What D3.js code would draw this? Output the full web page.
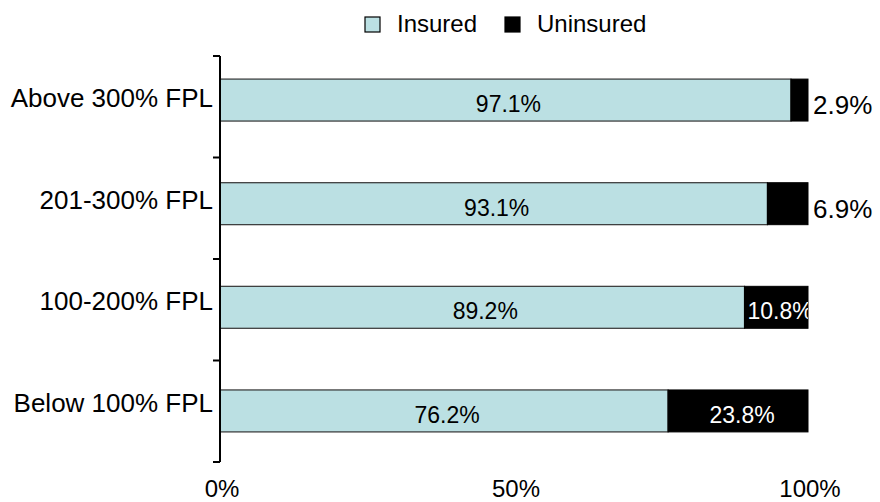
<!DOCTYPE html>
<html>
<head>
<meta charset="utf-8">
<script src="https://cdn.jsdelivr.net/npm/d3@7"></script>
<style>
  body { margin: 0; background: #fff; }
  svg { display: block; font-family: "Liberation Sans", Arial, sans-serif; }
</style>
</head>
<body>
<div id="chart"></div>
<script>
// categorias de arriba hacia abajo
const categories = ["Above 300% FPL", "201-300% FPL", "100-200% FPL", "Below 100% FPL"];
const insured = [97.1, 93.1, 89.2, 76.2];
const uninsured = [2.9, 6.9, 10.8, 23.8];
const seriesNames = ["Insured", "Uninsured"];
const xTicks = [0, 50, 100];

const width = 880, height = 502;

const svg = d3.select("#chart").append("svg")
  .attr("width", width)
  .attr("height", height);

const x = d3.scaleLinear().domain([0, 100]).range([220, 808]);

// escala del eje (marcas y etiquetas)
const yAxis = d3.scaleBand().domain(categories).range([56, 462]);
// escala de las barras
const y = d3.scaleBand().domain(categories)
  .range([48, 463])
  .paddingInner(0.595).paddingOuter(0.3);

const colors = { Insured: "#bbe0e3", Uninsured: "#000000" };

const rows = categories.map((c, i) => ({ cat: c, ins: insured[i], unins: uninsured[i] }));

// segmento asegurado
svg.selectAll(".ins").data(rows).enter().append("rect")
  .attr("x", x(0))
  .attr("y", d => y(d.cat))
  .attr("width", d => x(d.ins) - x(0))
  .attr("height", y.bandwidth())
  .attr("fill", colors.Insured)
  .attr("stroke", "#333")
  .attr("stroke-width", 1.2);

// segmento sin seguro
svg.selectAll(".unins").data(rows).enter().append("rect")
  .attr("x", d => x(d.ins))
  .attr("y", d => y(d.cat))
  .attr("width", d => x(d.ins + d.unins) - x(d.ins))
  .attr("height", y.bandwidth())
  .attr("fill", colors.Uninsured)
  .attr("stroke", "#000")
  .attr("stroke-width", 1);

// etiquetas dentro de la barra asegurada
svg.selectAll(".insLabel").data(rows).enter().append("text")
  .attr("x", d => (x(0) + x(d.ins)) / 2 + 3)
  .attr("y", d => y(d.cat) + y.bandwidth() / 2 + 12)
  .attr("text-anchor", "middle")
  .style("font-size", "23px")
  .style("fill", "#000")
  .text(d => d.ins.toFixed(1) + "%");

// etiquetas del segmento sin seguro
svg.append("clipPath").attr("id", "clipBars")
  .append("rect").attr("x", 0).attr("y", 0)
  .attr("width", x(100)).attr("height", height);

svg.selectAll(".uninsLabel").data(rows).enter().append("text")
  .attr("clip-path", d => d.unins >= 10 ? "url(#clipBars)" : null)
  .attr("x", d => {
    if (d.unins < 10) return x(100) + 5;
    if (d.unins < 15) return x(d.ins) + 3;
    return (x(d.ins) + x(100)) / 2 + 4;
  })
  .attr("y", d => y(d.cat) + y.bandwidth() / 2 + (d.unins < 10 ? 14 : 12))
  .attr("text-anchor", d => d.unins >= 15 ? "middle" : "start")
  .style("font-size", d => d.unins < 10 ? "26px" : "23px")
  .style("fill", d => d.unins >= 10 ? "#fff" : "#000")
  .text(d => d.unins.toFixed(1) + "%");

// eje vertical con marcas
const yTickPos = categories.map(c => yAxis(c)).concat([yAxis.range()[1]]);
svg.append("line")
  .attr("x1", x(0)).attr("x2", x(0))
  .attr("y1", yAxis.range()[0]).attr("y2", yAxis.range()[1])
  .attr("stroke", "#000").attr("stroke-width", 2);
svg.selectAll(".ytick").data(yTickPos).enter().append("line")
  .attr("x1", x(0) - 7).attr("x2", x(0))
  .attr("y1", d => d).attr("y2", d => d)
  .attr("stroke", "#000").attr("stroke-width", 2);

// etiquetas de categoria
svg.selectAll(".cat").data(categories).enter().append("text")
  .attr("x", x(0) - 7)
  .attr("y", d => yAxis(d) + yAxis.bandwidth() / 2 + 0.5)
  .attr("text-anchor", "end")
  .style("font-size", "26px")
  .text(d => d);

// etiquetas del eje x
svg.selectAll(".xlab").data(xTicks).enter().append("text")
  .attr("x", d => x(d) + 2)
  .attr("y", 497)
  .attr("text-anchor", "middle")
  .style("font-size", "24px")
  .text(d => d + "%");

// leyenda
const legendPos = [365, 505];
const legend = svg.selectAll(".legend").data(seriesNames).enter().append("g")
  .attr("transform", (d, i) => `translate(${legendPos[i]},17)`);
legend.append("rect")
  .attr("width", 15).attr("height", 15)
  .attr("fill", d => colors[d])
  .attr("stroke", "#000").attr("stroke-width", 1.2);
legend.append("text")
  .attr("x", 32).attr("y", 15)
  .style("font-size", "24px")
  .text(d => d);
</script>
</body>
</html>
